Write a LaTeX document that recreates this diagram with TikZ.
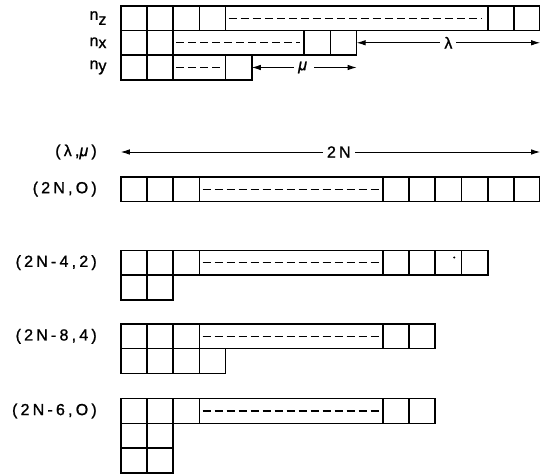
\documentclass[tikz,border=0pt]{standalone}
\usepackage{fontspec}
\newfontfamily\lblfont{Liberation Sans}[LetterSpace=20, FakeBold=1.2]
\usetikzlibrary{arrows.meta}

\begin{document}
\begin{tikzpicture}[
  x=26.2pt, y=-24.7pt,
  every node/.style = {font=\lblfont\fontsize{16}{18}\selectfont, inner sep=1pt},
  cell/.style     = {draw, line width=1.6pt},
  dline/.style    = {line width=1.1pt, dash pattern=on 8pt off 4pt},
  arr/.style      = {{Latex[length=9pt, width=5.5pt]}-{Latex[length=9pt, width=5.5pt]},
                     line width=0.9pt},
]
\useasboundingbox (-4.607,-0.231) rectangle (15.995,18.92);

%% ── Occupation rows n_z, n_x, n_y ───────────────────────────────────────
\node[anchor=east] (nz) at (-0.5, 0.5) {n\raisebox{-5pt}{z}};
\node[anchor=east] (nx) at (-0.5, 1.5) {n\raisebox{-2pt}{x}};
\node[anchor=east] (ny) at (-0.5, 2.5) {n\raisebox{-2pt}{y}};

\foreach \i in {0,...,3} \draw[cell] (\i,0) rectangle ++(1,1);
\draw[cell] (4,0) rectangle (14,1);
\draw[dline] (4.12,0.5) -- (13.8,0.5);
\foreach \i in {14,15} \draw[cell] (\i,0) rectangle ++(1,1);

\foreach \i in {0,1} \draw[cell] (\i,1) rectangle ++(1,1);
\draw[cell] (2,1) rectangle (7,2);
\draw[dline] (2.12,1.5) -- (6.85,1.5);
\foreach \i in {7,8} \draw[cell] (\i,1) rectangle ++(1,1);

\foreach \i in {0,1} \draw[cell] (\i,2) rectangle ++(1,1);
\draw[cell] (2,2) rectangle (4,3);
\draw[dline] (2.12,2.5) -- (3.9,2.5);
\draw[cell] (4,2) rectangle ++(1,1);

%% ── lambda / mu spans ────────────────────────────────────────────────────
\coordinate (nxend) at (9,1.5);
\coordinate (nzend) at (16,1.5);
\coordinate (nyend) at (5,2.5);
\coordinate (muend) at (9,2.5);
\draw[arr] (nxend) -- node[fill=white, inner sep=4pt] (lam) {λ} (nzend);
\draw[arr] (nyend) -- node[fill=white, inner sep=4pt] (mu) {\textit{μ}} (muend);

%% ── 2N span ──────────────────────────────────────────────────────────────
\node[anchor=east] (lammu) at (-0.87, 5.92) {(λ,\textit{μ})};
\coordinate (left2n)  at (0,5.92);
\coordinate (right2n) at (16,5.92);
\draw[arr] (left2n) -- node[fill=white, inner sep=4pt, pos=0.52] (twon) {2N} (right2n);

%% ── (2N,0) ───────────────────────────────────────────────────────────────
\node[anchor=east] (r1) at (-0.87, 7.42) {(2N,O)};
\foreach \i in {0,1,2} \draw[cell] (\i,6.92) rectangle ++(1,1);
\draw[cell] (3,6.92) rectangle (10,7.92);
\draw[dline] (3.12,7.42) -- (9.9,7.42);
\foreach \i in {10,...,15} \draw[cell] (\i,6.92) rectangle ++(1,1);

%% ── (2N-4,2) ─────────────────────────────────────────────────────────────
\node[anchor=east] (r2) at (-0.87, 10.4) {(2N-4,2)};
\foreach \i in {0,1,2} \draw[cell] (\i,9.9) rectangle ++(1,1);
\draw[cell] (3,9.9) rectangle (10,10.9);
\draw[dline] (3.12,10.4) -- (9.9,10.4);
\foreach \i in {10,...,13} \draw[cell] (\i,9.9) rectangle ++(1,1);
\foreach \i in {0,1} \draw[cell] (\i,10.9) rectangle ++(1,1);
\fill (12.72,10.19) circle (1.1pt);

%% ── (2N-8,4) ─────────────────────────────────────────────────────────────
\node[anchor=east] (r3) at (-0.87, 13.38) {(2N-8,4)};
\foreach \i in {0,1,2} \draw[cell] (\i,12.88) rectangle ++(1,1);
\draw[cell] (3,12.88) rectangle (10,13.88);
\draw[dline] (3.12,13.38) -- (9.9,13.38);
\foreach \i in {10,11} \draw[cell] (\i,12.88) rectangle ++(1,1);
\foreach \i in {0,...,3} \draw[cell] (\i,13.88) rectangle ++(1,1);

%% ── (2N-6,0) ─────────────────────────────────────────────────────────────
\node[anchor=east] (r4) at (-0.87, 16.4) {(2N-6,O)};
\foreach \i in {0,1,2} \draw[cell] (\i,15.9) rectangle ++(1,1);
\draw[cell] (3,15.9) rectangle (10,16.9);
\draw[dline] (3.12,16.4) -- (9.9,16.4);
\foreach \i in {10,11} \draw[cell] (\i,15.9) rectangle ++(1,1);
\foreach \i in {0,1} \draw[cell] (\i,16.9) rectangle ++(1,1);
\foreach \i in {0,1} \draw[cell] (\i,17.9) rectangle ++(1,1);

\end{tikzpicture}
\end{document}
